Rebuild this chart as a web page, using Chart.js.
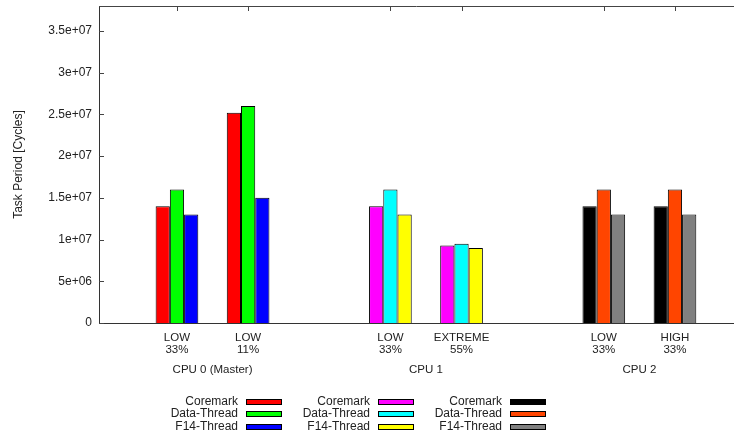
<!DOCTYPE html>
<html>
<head>
<meta charset="utf-8">
<script src="https://cdn.jsdelivr.net/npm/chart.js@4.4.0/dist/chart.umd.min.js"></script>
<style>
  html, body { margin: 0; padding: 0; background: #fff; }
  #wrap { width: 734px; height: 436px; }
</style>
</head>
<body>
<div id="wrap"><canvas id="c" width="734" height="436"></canvas></div>
<script>
// Slot positions of the load settings along the x axis (gaps separate CPUs)
const xPositions = [0, 1, 3, 4, 6, 7];
const loadLabels = [['LOW', '33%'], ['LOW', '11%'], ['LOW', '33%'], ['EXTREME', '55%'], ['LOW', '33%'], ['HIGH', '33%']];
const cpuNames = ['CPU 0 (Master)', 'CPU 1', 'CPU 2'];
const taskNames = ['Coremark', 'Data-Thread', 'F14-Thread'];
const yTicks = [0, 5e6, 1e7, 1.5e7, 2e7, 2.5e7, 3e7, 3.5e7];

// Task periods in cycles, one value per load setting of each CPU
const cpu0Coremark = [1.4e7, 2.52e7];
const cpu0Data = [1.6e7, 2.6e7];
const cpu0F14 = [1.3e7, 1.5e7];
const cpu1Coremark = [1.4e7, 9.3e6];
const cpu1Data = [1.6e7, 9.5e6];
const cpu1F14 = [1.3e7, 9.0e6];
const cpu2Coremark = [1.4e7, 1.4e7];
const cpu2Data = [1.6e7, 1.6e7];
const cpu2F14 = [1.3e7, 1.3e7];

const cpuSeries = [
  [cpu0Coremark, cpu0Data, cpu0F14],
  [cpu1Coremark, cpu1Data, cpu1F14],
  [cpu2Coremark, cpu2Data, cpu2F14]
];
const cpuColors = [
  ['#ff0000', '#00ff00', '#0000ff'],
  ['#ff00ff', '#00ffff', '#ffff00'],
  ['#000000', '#ff4500', '#808080']
];

const FONT = '"Liberation Sans", Arial, Helvetica, sans-serif';
const TEXT = '#222';
Chart.defaults.font.family = FONT;
Chart.defaults.color = TEXT;

const datasets = [];
cpuSeries.forEach((tasks, c) => {
  tasks.forEach((vals, t) => {
    datasets.push({
      label: taskNames[t],
      cpu: c,
      backgroundColor: cpuColors[c][t],
      borderColor: '#000',
      borderWidth: 1,
      data: xPositions.map((x, i) => ({ x: x, y: Math.floor(i / 2) === c ? vals[i % 2] : null }))
    });
  });
});

function expLabel(v) {
  if (v === 0) return '0';
  const parts = v.toExponential().split('e');
  const exp = parts[1];
  return parts[0] + 'e' + exp[0] + exp.slice(1).padStart(2, '0');
}

function noPadding(s) {
  s.paddingTop = 0;
  s.paddingBottom = 0;
  s.paddingLeft = 0;
  s.paddingRight = 0;
}

// Frame ticks, CPU group titles and the three-column key
const overlay = {
  id: 'overlay',
  afterDraw(chart) {
    const { ctx, chartArea: a, scales } = chart;
    const xs = scales.x, ys = scales.y;
    ctx.save();
    ctx.strokeStyle = '#444';
    ctx.lineWidth = 1;
    ctx.beginPath();
    ctx.moveTo(a.left, Math.round(a.top) + 0.5);
    ctx.lineTo(a.right, Math.round(a.top) + 0.5);
    yTicks.forEach(v => {
      const y = Math.round(ys.getPixelForValue(v)) + 0.5;
      ctx.moveTo(a.left, y);
      ctx.lineTo(a.left + 5, y);
    });
    xPositions.forEach(v => {
      const x = Math.round(xs.getPixelForValue(v)) + 0.5;
      ctx.moveTo(x, a.top);
      ctx.lineTo(x, a.top + 5);
    });
    ctx.stroke();

    ctx.fillStyle = TEXT;
    ctx.font = '11.5px ' + FONT;
    ctx.textAlign = 'center';
    ctx.textBaseline = 'middle';
    cpuNames.forEach((name, c) => {
      const x = (xs.getPixelForValue(xPositions[2 * c]) + xs.getPixelForValue(xPositions[2 * c + 1])) / 2;
      ctx.fillText(name, x, 370);
    });

    ctx.font = '12px ' + FONT;
    ctx.textAlign = 'right';
    chart.data.datasets.forEach((ds, i) => {
      const col = ds.cpu, row = i % 3;
      const y = 401.5 + row * 12.5;
      const tx = 238 + col * 132;
      ctx.fillStyle = TEXT;
      ctx.fillText(ds.label, tx, y);
      ctx.fillStyle = ds.backgroundColor;
      ctx.fillRect(tx + 8, Math.round(y) - 3, 36, 6);
      ctx.strokeStyle = '#000';
      ctx.strokeRect(tx + 8.5, Math.round(y) - 2.5, 35, 5);
    });
    ctx.restore();
  }
};

new Chart(document.getElementById('c'), {
  type: 'bar',
  data: { datasets },
  plugins: [overlay],
  options: {
    responsive: false,
    animation: false,
    layout: { padding: { top: 6, left: 0, right: 0, bottom: 0 } },
    datasets: { bar: { skipNull: true, categoryPercentage: 0.6, barPercentage: 1.0 } },
    plugins: { legend: { display: false }, tooltip: { enabled: false } },
    scales: {
      x: {
        type: 'linear',
        offset: false,
        min: -1.096,
        max: 7.83,
        grid: { display: false, drawTicks: false },
        border: { display: true, color: '#333', width: 1 },
        afterBuildTicks: s => { s.ticks = xPositions.map(v => ({ value: v })); },
        afterFit: s => { s.height = 113; noPadding(s); },
        ticks: {
          autoSkip: false,
          maxRotation: 0,
          padding: 9,
          color: TEXT,
          font: { size: 11.5, lineHeight: 1.05 },
          callback: v => loadLabels[xPositions.indexOf(v)]
        }
      },
      y: {
        min: 0,
        max: 3.8e7,
        grid: { display: false, drawTicks: false },
        border: { display: true, color: '#333', width: 1 },
        afterBuildTicks: s => { s.ticks = yTicks.map(v => ({ value: v })); },
        afterFit: s => { s.width = 99; noPadding(s); },
        ticks: { padding: 7, color: TEXT, font: { size: 12 }, callback: v => expLabel(v) },
        title: {
          display: true,
          text: 'Task Period [Cycles]',
          color: TEXT,
          font: { size: 12 },
          padding: { top: 11, bottom: 0 }
        }
      }
    }
  }
});
</script>
</body>
</html>
